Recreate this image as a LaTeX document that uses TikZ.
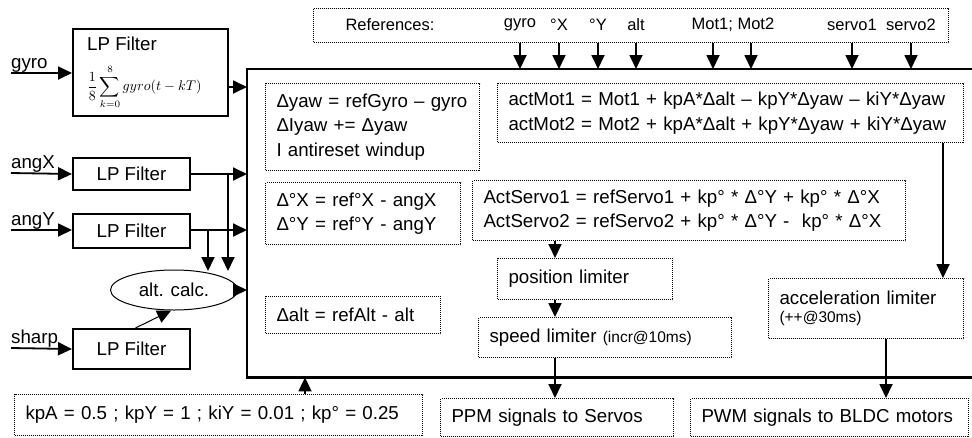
\documentclass[tikz,border=0pt]{standalone}
\usepackage{fontspec}
\setmainfont{Liberation Sans}
\usetikzlibrary{arrows.meta,shapes.geometric,calc}
\begin{document}
\begin{tikzpicture}[x=1pt,y=-1pt,
  every node/.style={font=\fontsize{18.7}{24.5}\selectfont},
  dbox/.style={draw, densely dotted, line width=1pt, anchor=north west, inner xsep=11pt, inner ysep=0pt, align=left},
  sbox/.style={draw, line width=2pt, anchor=north west, inner sep=0pt},
  arr/.style={line width=1.8pt, -{Triangle[length=14pt,width=13pt]}},
  lbl/.style={inner sep=0pt, anchor=south west},
  reflbl/.style={inner sep=0pt, font=\fontsize{16.5}{20}\selectfont}
]
\useasboundingbox (0,0) rectangle (972,437);

% main block
\node[minimum width=760pt, minimum height=308pt, anchor=north west, inner sep=0pt] (main) at (247,69) {};
\draw[line width=2.6pt] (main.north east) -- (main.north west) -- (main.south west) -- (main.south east);

% references
\node[draw, densely dotted, line width=1pt, minimum width=635pt, minimum height=34pt, anchor=north west, inner sep=0pt] (ref) at (313,8) {};
\node[reflbl] (rt) at (390,25) {References:};
\node[reflbl] (rg) at (520,25) {gyro};
\node[reflbl] (rx) at (559,25) {°X};
\node[reflbl] (ry) at (598,25) {°Y};
\node[reflbl] (ra) at (636,25) {alt};
\node[reflbl] (rm) at (733,25) {Mot1; Mot2};
\node[reflbl] (rs1) at (852,25) {servo1};
\node[reflbl] (rs2) at (911,25) {servo2};
\coordinate (m1) at (713,0);
\coordinate (m2) at (751,0);
\foreach \n in {rg,rx,ry,ra,m1,m2,rs1,rs2}
  \draw[arr] (ref.south -| \n) -- (main.north -| \n);

% left inputs
\node[sbox, minimum width=155pt, minimum height=87pt] (b1) at (72,28) {};
\node[anchor=west, inner sep=0pt] (b1t) at (87,44) {LP Filter};
\node[anchor=west, inner sep=0pt, font=\fontsize{10}{12}\selectfont] (b1f) at (87,87)
  {\scalebox{1.4}{$\displaystyle\frac{1}{8}\sum_{k=0}^{8} gyro(t-kT)$}};
\node[sbox, minimum width=117pt, minimum height=32pt] (b2) at (72,157) {LP Filter};
\node[sbox, minimum width=117pt, minimum height=34pt] (b3) at (72,213) {LP Filter};
\node[sbox, minimum width=117pt, minimum height=40pt] (b4) at (72,328) {LP Filter};
\node[draw, ellipse, line width=1pt, minimum width=127pt, minimum height=40pt, inner sep=0pt] (alt) at (174,290) {alt. calc.};

\coordinate (gin) at (11,73);
\coordinate (xin) at (11,173);
\coordinate (yin) at (11,230);
\coordinate (sin) at (11,348);
\node[lbl] (lg) at (gin) {gyro};
\node[lbl] (lx) at (xin) {angX};
\node[lbl] (ly) at (yin) {angY};
\node[lbl] (ls) at (sin) {sharp};
\draw[arr] (gin) -- (gin -| b1.west);
\draw[arr] (xin) -- (b2.west);
\draw[arr] (yin) -- (yin -| b3.west);
\draw[arr] (sin) -- (b4.west);

\coordinate (o1) at (227,87);
\draw[arr] (o1) -- (o1 -| main.west);
\draw[arr] (b2.east) -- (b2.east -| main.west);
\coordinate (o3) at (189,230);
\draw[arr] (o3) -- (o3 -| main.west);
\coordinate (br1) at (228,173);
\coordinate (br2) at (208,230);
\draw[arr] (br1) -- (228,271);
\draw[arr] (br2) -- (208,271);
\draw[arr] (alt.east) -- (alt.east -| main.west);
\draw[line width=1pt, -{Triangle[length=14pt,width=13pt]}] ($(b4.north)+(4,0)$) -- (alt.262);

% inner blocks
\node[dbox, text width=192pt, minimum height=87pt] (yaw) at (265,83)
  {Δyaw = refGyro – gyro\\ ΔIyaw += Δyaw\\ I antireset windup};
\node[dbox, text width=173pt, minimum height=62pt] (dxy) at (265,182)
  {Δ°X = ref°X - angX\\ Δ°Y = ref°Y - angY};
\node[dbox, text width=153pt, minimum height=37pt] (dalt) at (265,296)
  {Δalt = refAlt - alt};
\node[dbox, text width=444pt, minimum height=59pt] (mot) at (497,83)
  {actMot1 = Mot1 + kpA*Δalt – kpY*Δyaw – kiY*Δyaw\\ actMot2 = Mot2 + kpA*Δalt + kpY*Δyaw + kiY*Δyaw};
\node[dbox, text width=411pt, minimum height=60pt] (servo) at (472,180)
  {ActServo1 = refServo1 + kp° * Δ°Y + kp° * Δ°X\\ ActServo2 = refServo2 + kp° * Δ°Y -\ \ kp° * Δ°X};
\node[dbox, text width=153pt, minimum height=41pt] (pos) at (497,258) {position limiter};
\node[dbox, text width=231pt, minimum height=40pt] (speed) at (478,317)
  {speed limiter {\fontsize{15.5}{18}\selectfont(incr@10ms)}};
\node[dbox, text width=173pt, minimum height=60pt] (acc) at (768,278)
  {acceleration limiter\\[-6pt] {\fontsize{15.5}{18}\selectfont(++@30ms)}};

% bottom blocks
\node[dbox, text width=386pt, minimum height=41pt] (kp) at (14,394)
  {kpA = 0.5 ; kpY = 1 ; kiY = 0.01 ; kp° = 0.25};
\node[dbox, text width=211pt, minimum height=38pt] (ppm) at (440,398) {PPM signals to Servos};
\node[dbox, text width=256pt, minimum height=38pt] (pwm) at (690,398) {PWM signals to BLDC motors};

% internal arrows
\coordinate (sx) at (555,0);
\coordinate (mx) at (943,0);
\coordinate (px) at (886,0);
\coordinate (kx) at (305,0);
\draw[arr] (servo.south -| sx) -- (pos.north -| sx);
\draw[arr] (pos.south -| sx) -- (speed.north -| sx);
\draw[arr] (speed.south -| sx) -- (ppm.north -| sx);
\draw[arr] (mot.south -| mx) -- (acc.north -| mx);
\draw[arr] (acc.south -| px) -- (pwm.north -| px);
\draw[arr] (kp.north -| kx) -- (main.south -| kx);
\end{tikzpicture}
\end{document}
